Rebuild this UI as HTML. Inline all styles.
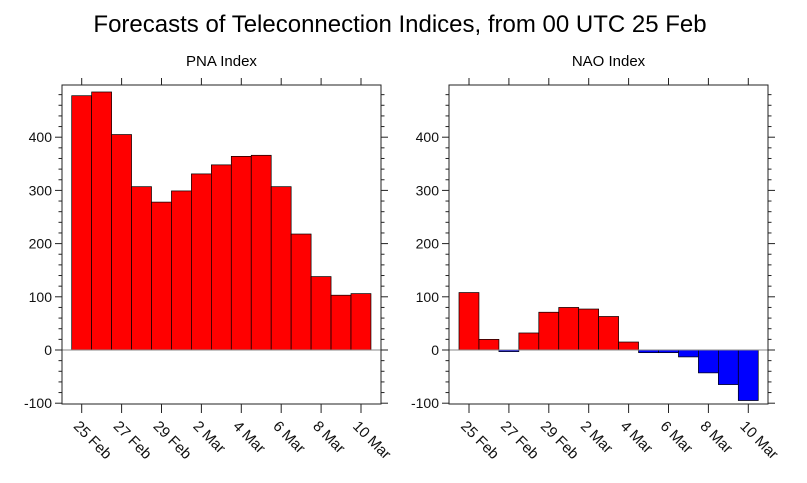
<!DOCTYPE html>
<html><head><meta charset="utf-8"><style>
body{margin:0;background:#fff;width:807px;height:483px;overflow:hidden}
svg{display:block;font-family:"Liberation Sans",sans-serif}
</style></head><body>
<svg id="s" width="807" height="483" xmlns="http://www.w3.org/2000/svg">
<text x="400" y="32" font-size="24" text-anchor="middle" fill="#000">Forecasts of Teleconnection Indices, from 00 UTC 25 Feb</text>
</svg>
<script>
(function(){
const s=document.getElementById('s');let h='';
const TOP=85,BOT=404,Y0=350,K=0.532;
const labels=['25 Feb','27 Feb','29 Feb','2 Mar','4 Mar','6 Mar','8 Mar','10 Mar'];
function panel(L,R,t0,title,data){
  const Y=v=>Y0-v*K;
  h+=`<text x="${(L+R)/2}" y="66" font-size="15" text-anchor="middle">${title}</text>`;
  data.forEach((v,i)=>{const c=t0+i*19.95;const y=Math.min(Y(v),Y0),hh=Math.abs(v*K);
    h+=`<rect x="${c-10}" y="${y}" width="19.95" height="${Math.max(hh,0.8)}" fill="${v>=0?'#ff0000':'#0000ff'}" stroke="#000" stroke-width="0.7"/>`;});
  h+=`<line x1="${L}" x2="${R}" y1="${Y0}" y2="${Y0}" stroke="#888" stroke-width="1"/>`;
  h+=`<rect x="${L}" y="${TOP}" width="${R-L}" height="${BOT-TOP}" fill="none" stroke="#222" stroke-width="1"/>`;
  for(let v=-100;v<=480;v+=20){const y=Y(v);if(y<TOP)continue;const maj=v%100==0;const l=maj?7:3.5;
    h+=`<line x1="${L-l}" x2="${L}" y1="${y}" y2="${y}" stroke="#222" stroke-width="1"/><line x1="${R}" x2="${R+l}" y1="${y}" y2="${y}" stroke="#222" stroke-width="1"/>`;
    if(maj)h+=`<text x="${L-10}" y="${y+5}" font-size="14" text-anchor="end" fill="#111">${v}</text>`;}
  labels.forEach((lb,i)=>{const x=t0+i*2*19.95;
    h+=`<line x1="${x}" x2="${x}" y1="${BOT}" y2="${BOT+9}" stroke="#222"/><line x1="${x}" x2="${x}" y1="${TOP}" y2="${TOP-7}" stroke="#222"/>`;
    h+=`<text transform="translate(${x-9},427) rotate(45)" font-size="15" fill="#111">${lb}</text>`;});
}
panel(62,381,81.7,'PNA Index',[478,485,405,307,278,299,331,348,364,366,307,218,138,103,106]);
panel(449,768,469,'NAO Index',[108,20,-3,32,71,80,77,63,15,-5,-5,-13,-43,-65,-95]);
s.insertAdjacentHTML('beforeend',h);
})();
</script>
</body></html>
